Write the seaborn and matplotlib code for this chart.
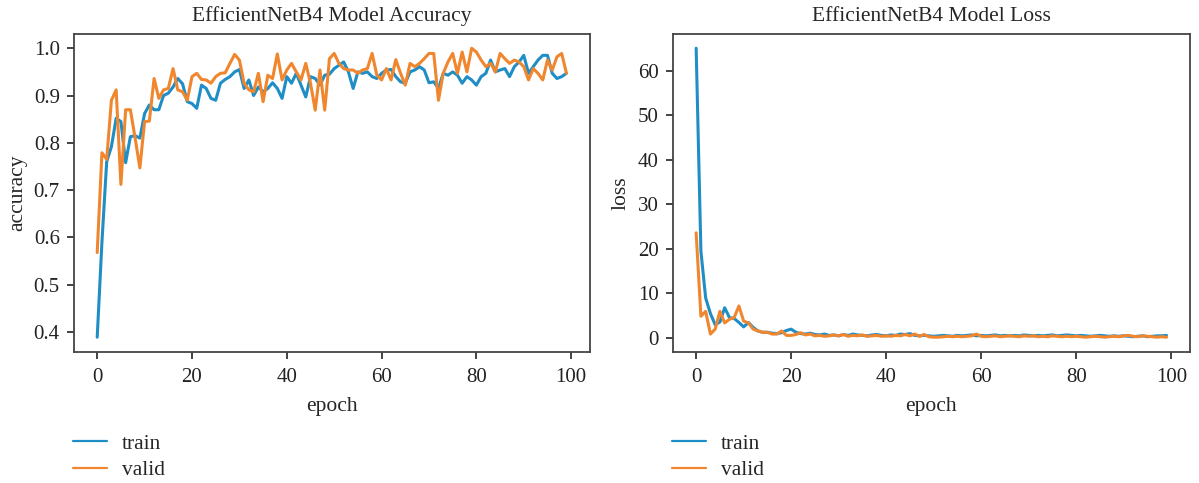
import numpy as np
import pandas as pd
import matplotlib
matplotlib.use("Agg")
import matplotlib.pyplot as plt
import seaborn as sns

epochs = list(range(100))

train_acc = [0.389, 0.59, 0.76, 0.792, 0.852, 0.845, 0.758, 0.813, 0.815, 0.81,
             0.862, 0.88, 0.87, 0.87, 0.90, 0.905, 0.918, 0.936, 0.925, 0.887,
             0.883, 0.873, 0.922, 0.915, 0.894, 0.89, 0.926, 0.934, 0.94, 0.95,
             0.955, 0.915, 0.933, 0.90, 0.918, 0.908, 0.915, 0.927, 0.915, 0.894,
             0.94, 0.926, 0.947, 0.922, 0.897, 0.94, 0.936, 0.922, 0.943, 0.945,
             0.957, 0.964, 0.971, 0.95, 0.915, 0.95, 0.947, 0.95, 0.94, 0.936,
             0.947, 0.954, 0.955, 0.94, 0.929, 0.926, 0.95, 0.954, 0.961, 0.954,
             0.927, 0.929, 0.915, 0.947, 0.943, 0.95, 0.943, 0.926, 0.94, 0.933,
             0.922, 0.94, 0.947, 0.975, 0.95, 0.954, 0.957, 0.94, 0.961, 0.971,
             0.985, 0.947, 0.961, 0.975, 0.985, 0.985, 0.947, 0.936, 0.94, 0.947]

valid_acc = [0.568, 0.779, 0.765, 0.89, 0.912, 0.712, 0.87, 0.87, 0.81, 0.747,
             0.845, 0.846, 0.936, 0.894, 0.912, 0.915, 0.957, 0.912, 0.908, 0.89,
             0.94, 0.947, 0.934, 0.933, 0.926, 0.94, 0.947, 0.948, 0.968, 0.987,
             0.975, 0.926, 0.912, 0.908, 0.947, 0.887, 0.943, 0.936, 0.988, 0.933,
             0.954, 0.968, 0.95, 0.933, 0.968, 0.926, 0.869, 0.954, 0.869, 0.978,
             0.989, 0.968, 0.957, 0.954, 0.954, 0.947, 0.954, 0.957, 0.989, 0.943,
             0.933, 0.957, 0.933, 0.976, 0.947, 0.922, 0.968, 0.961, 0.968, 0.978,
             0.989, 0.989, 0.89, 0.947, 0.971, 0.989, 0.947, 0.992, 0.95, 1.0,
             0.992, 0.975, 0.961, 0.968, 0.95, 0.989, 0.978, 0.968, 0.975, 0.971,
             0.961, 0.933, 0.957, 0.947, 0.933, 0.975, 0.954, 0.982, 0.989, 0.947]

train_loss = [65.0, 19.5, 9.0, 5.5, 3.0, 3.6, 6.8, 4.6, 4.4, 3.5,
              2.5, 3.5, 2.4, 1.6, 1.3, 1.3, 1.1, 1.0, 1.2, 1.7,
              2.0, 1.3, 1.0, 0.9, 1.1, 0.8, 0.7, 0.9, 0.6, 0.7,
              0.5, 0.8, 0.6, 0.9, 0.7, 0.6, 0.5, 0.7, 0.8, 0.6,
              0.5, 0.7, 0.6, 0.9, 0.8, 1.0, 0.6, 0.5, 0.6, 0.5,
              0.4, 0.5, 0.6, 0.5, 0.4, 0.6, 0.5, 0.6, 0.7, 0.5,
              0.6, 0.5, 0.6, 0.7, 0.5, 0.6, 0.5, 0.6, 0.5, 0.7,
              0.6, 0.5, 0.6, 0.5, 0.6, 0.7, 0.5, 0.6, 0.7, 0.6,
              0.5, 0.6, 0.5, 0.4, 0.5, 0.6, 0.5, 0.4, 0.5, 0.4,
              0.5, 0.4, 0.3, 0.4, 0.5, 0.3, 0.4, 0.5, 0.5, 0.6]

valid_loss = [23.6, 4.9, 6.0, 0.9, 2.0, 6.0, 3.4, 4.2, 4.6, 7.2,
              3.8, 3.4, 2.0, 1.6, 1.3, 1.3, 0.9, 0.9, 1.6, 0.6,
              0.6, 0.8, 1.2, 0.7, 0.9, 0.5, 0.6, 0.4, 0.5, 0.7,
              0.5, 0.8, 0.4, 0.6, 0.5, 0.7, 0.4, 0.5, 0.6, 0.4,
              0.5, 0.4, 0.6, 0.5, 0.8, 0.5, 0.9, 0.4, 0.8, 0.3,
              0.2, 0.2, 0.3, 0.4, 0.3, 0.4, 0.3, 0.4, 0.5, 0.9,
              0.4, 0.3, 0.4, 0.5, 0.3, 0.4, 0.5, 0.4, 0.3, 0.5,
              0.4, 0.5, 0.3, 0.4, 0.3, 0.5, 0.4, 0.3, 0.4, 0.3,
              0.4, 0.3, 0.2, 0.3, 0.4, 0.3, 0.2, 0.3, 0.4, 0.3,
              0.5, 0.6, 0.4, 0.3, 0.5, 0.4, 0.3, 0.2, 0.3, 0.2]

series_names = ["train", "valid"]
colors = ["#1f8ec6", "#f0862e"]

sns.set_style("ticks")
plt.rcParams['font.family'] = ['Liberation Serif', 'DejaVu Serif']

acc_df = pd.DataFrame({
    "epoch": epochs * 2,
    "value": train_acc + valid_acc,
    "series": [series_names[0]] * 100 + [series_names[1]] * 100,
})
loss_df = pd.DataFrame({
    "epoch": epochs * 2,
    "value": train_loss + valid_loss,
    "series": [series_names[0]] * 100 + [series_names[1]] * 100,
})

fig = plt.figure(figsize=(11.99, 4.83), dpi=100)
ax1 = fig.add_axes([0.0615, 0.272, 0.4305, 0.658])
ax2 = fig.add_axes([0.561, 0.272, 0.4315, 0.658])

palette = dict(zip(series_names, colors))

for ax, df, title, ylabel in [
    (ax1, acc_df, "EfficientNetB4 Model Accuracy", "accuracy"),
    (ax2, loss_df, "EfficientNetB4 Model Loss", "loss"),
]:
    sns.lineplot(data=df, x="epoch", y="value", hue="series", palette=palette,
                 linewidth=2.2, ax=ax)
    ax.set_title(title, fontsize=15.5, pad=9)
    ax.set_xlabel("epoch", fontsize=15.5, labelpad=7)
    ax.set_ylabel(ylabel, fontsize=15.5, labelpad=5)
    ax.tick_params(labelsize=15, colors="#222222", length=5, width=1.2)
    ax.tick_params(axis="x", pad=7)
    ax.tick_params(axis="y", pad=5)
    for sp in ax.spines.values():
        sp.set_color("#444444")
        sp.set_linewidth(1.3)
    ax.set_xticks([0, 20, 40, 60, 80, 100])
    leg = ax.legend(loc="upper left", bbox_to_anchor=(-0.002, -0.258),
                    frameon=False, fontsize=15.5, handlelength=1.6,
                    handletextpad=0.7, labelspacing=0.3, borderaxespad=0,
                    borderpad=0)
    for line in leg.get_lines():
        line.set_linewidth(1.6)

ax1.set_yticks([0.4, 0.5, 0.6, 0.7, 0.8, 0.9, 1.0])
ax2.set_yticks([0, 10, 20, 30, 40, 50, 60])

fig.savefig("out.png", dpi=100)
